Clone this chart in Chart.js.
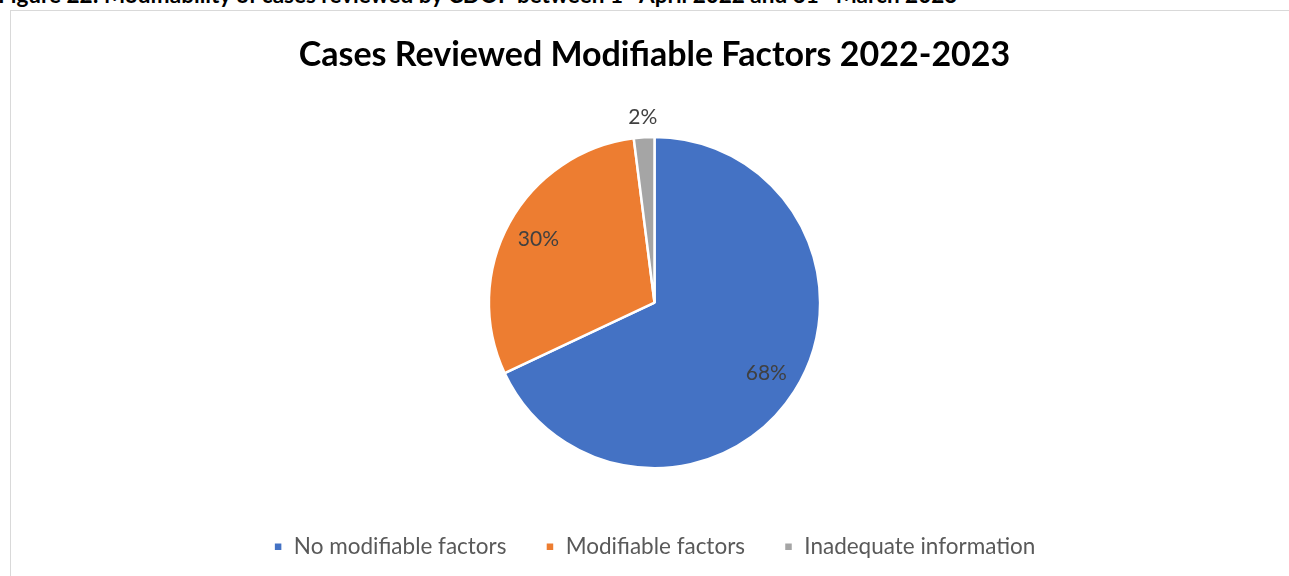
<!DOCTYPE html>
<html>
<head>
<meta charset="utf-8">
<script src="https://cdn.jsdelivr.net/npm/chart.js@4/dist/chart.umd.min.js"></script>
<style>
  html, body { margin: 0; padding: 0; background: #fff; overflow: hidden; }
  #caption { position: absolute; left: -2px; top: -16px; font: bold 22.5px/22px Lato, "Open Sans", sans-serif; color: #000; white-space: nowrap; }
  #caption sup { font-size: 14px; line-height: 0; }
  #frame { position: absolute; left: 10px; top: 10px; width: 1300px; height: 600px; border: 1px solid #d9d9d9; }
  #wrap { position: absolute; left: 0; top: 0; width: 1289px; height: 576px; }
</style>
</head>
<body>
<div id="caption">Figure 22: Modifiability of cases reviewed by CDOP between 1<sup>st</sup> April 2022 and 31<sup>st</sup> March 2023</div>
<div id="frame"></div>
<div id="wrap"><canvas id="chart"></canvas></div>
<script>
const categories = ["No modifiable factors", "Modifiable factors", "Inadequate information"];
const shares = [68, 30, 2];
const colours = ["#4472C4", "#ED7D31", "#A5A5A5"];

const FONT = "Lato, 'Open Sans', sans-serif";

// percentage labels drawn on (or just outside) each slice
const sliceLabels = {
  id: "sliceLabels",
  afterDatasetsDraw(chart) {
    const ctx = chart.ctx;
    const meta = chart.getDatasetMeta(0);
    const total = shares.reduce((a, b) => a + b, 0);
    ctx.save();
    ctx.font = "21px " + FONT;
    ctx.fillStyle = "#404040";
    ctx.textAlign = "center";
    ctx.textBaseline = "middle";
    meta.data.forEach((arc, i) => {
      const mid = (arc.startAngle + arc.endAngle) / 2;
      const pct = shares[i] / total * 100;
      const d = pct < 5 ? arc.outerRadius + 20 : arc.outerRadius * 0.8;
      const x = arc.x + Math.cos(mid) * d;
      const y = arc.y + Math.sin(mid) * d;
      ctx.fillText(Math.round(pct) + "%", x, y);
    });
    ctx.restore();
  }
};

new Chart(document.getElementById("chart"), {
  type: "pie",
  data: {
    labels: categories,
    datasets: [{
      data: shares,
      backgroundColor: colours,
      borderColor: "#ffffff",
      borderWidth: 2.5
    }]
  },
  options: {
    responsive: true,
    maintainAspectRatio: false,
    animation: false,
    layout: { padding: { left: 20, bottom: 8 } },
    plugins: {
      title: {
        display: true,
        text: "Cases Reviewed Modifiable Factors 2022-2023",
        color: "#000000",
        font: { family: FONT, size: 34, weight: "bold" },
        padding: { top: 35, bottom: 60 }
      },
      // empty spacer between the pie and the legend
      subtitle: {
        display: true,
        position: "bottom",
        weight: 500,
        text: "",
        font: { size: 1, lineHeight: 1 },
        padding: { top: 26, bottom: 0 }
      },
      legend: {
        position: "bottom",
        labels: {
          color: "#595959",
          font: { family: FONT, size: 22.5 },
          boxWidth: 9,
          boxHeight: 9,
          padding: 39
        }
      },
      tooltip: { enabled: false }
    }
  },
  plugins: [sliceLabels]
});
</script>
</body>
</html>
